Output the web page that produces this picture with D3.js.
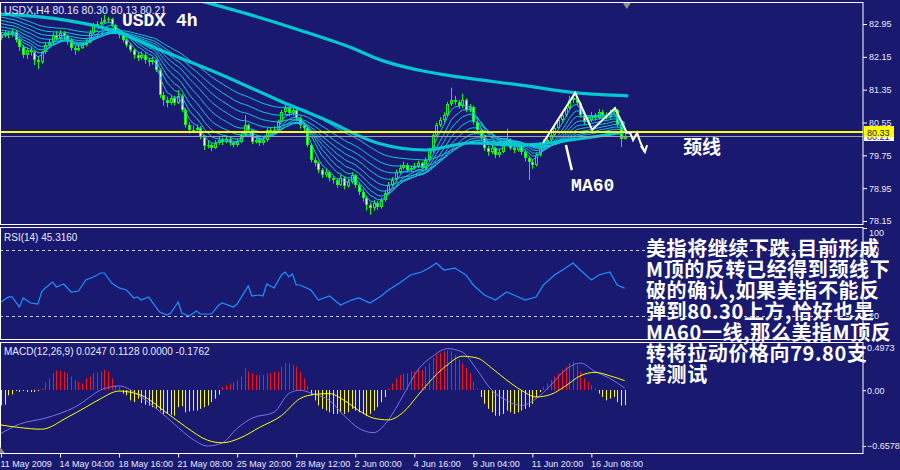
<!DOCTYPE html>
<html><head><meta charset="utf-8">
<script src="https://cdn.jsdelivr.net/npm/d3@7"></script>
<style>body{margin:0;background:#191970;} svg{display:block}</style>
</head><body><svg id="c" width="900" height="470"></svg>
<script>
// ---------- DATA ----------
const closes = [82.66,82.73,82.68,82.76,82.56,82.39,82.20,82.32,82.27,82.07,
82.03,82.27,82.44,82.51,82.68,82.61,82.73,82.66,82.56,82.37,
82.32,82.37,82.44,82.51,82.73,82.93,82.95,83.00,83.05,83.07,
82.93,82.76,82.68,82.56,82.44,82.32,82.20,82.12,82.20,82.07,
82.03,82.07,81.83,81.22,81.10,81.03,81.15,81.03,81.20,80.85,
80.49,80.37,80.37,80.42,80.20,79.98,80.00,79.93,80.05,80.12,
80.08,80.15,80.05,80.00,80.08,80.25,80.49,80.37,80.08,80.12,
80.05,80.12,80.37,80.30,80.37,80.56,80.81,80.90,80.78,80.85,
80.66,80.49,80.42,80.00,79.64,79.56,79.39,79.27,79.34,79.20,
79.15,79.03,79.20,79.00,79.10,79.27,79.03,78.86,78.71,78.54,
78.47,78.59,78.49,78.66,78.83,79.03,79.15,79.34,79.44,79.51,
79.39,79.44,79.49,79.56,79.44,79.64,79.88,80.25,80.49,80.61,
80.73,81.00,81.10,81.05,80.95,81.10,80.85,80.93,80.56,80.37,
80.17,79.93,79.83,79.93,79.76,79.83,80.05,80.12,79.93,79.88,
80.00,79.83,79.69,79.59,79.51,79.76,79.93,80.08,80.12,80.25,
80.42,80.61,80.73,80.90,81.10,81.15,81.03,80.73,80.56,80.61,
80.73,80.66,80.81,80.73,80.69,80.81,80.85,80.49,80.16,80.21];
const opens = [82.62,82.66,82.73,82.68,82.76,82.56,82.39,82.20,82.32,82.27,
82.07,82.03,82.27,82.44,82.51,82.68,82.61,82.73,82.66,82.56,
82.37,82.32,82.37,82.44,82.51,82.73,82.93,82.95,83.00,83.05,
83.07,82.93,82.76,82.68,82.56,82.44,82.32,82.20,82.12,82.20,
82.07,82.03,82.07,81.83,81.22,81.10,81.03,81.15,81.03,81.20,
80.85,80.49,80.37,80.37,80.42,80.20,79.98,80.00,79.93,80.05,
80.12,80.08,80.15,80.05,80.00,80.08,80.25,80.49,80.37,80.08,
80.12,80.05,80.12,80.37,80.30,80.37,80.56,80.81,80.90,80.78,
80.85,80.66,80.49,80.42,80.00,79.64,79.56,79.39,79.27,79.34,
79.20,79.15,79.03,79.20,79.00,79.10,79.27,79.03,78.86,78.71,
78.54,78.47,78.59,78.49,78.66,78.83,79.03,79.15,79.34,79.44,
79.51,79.39,79.44,79.49,79.56,79.44,79.64,79.88,80.25,80.49,
80.61,80.73,81.00,81.10,81.05,80.95,81.10,80.85,80.93,80.56,
80.37,80.17,79.93,79.83,79.93,79.76,79.83,80.05,80.12,79.93,
79.88,80.00,79.83,79.69,79.59,79.51,79.76,79.93,80.08,80.12,
80.25,80.42,80.61,80.73,80.90,81.10,81.15,81.03,80.73,80.56,
80.61,80.73,80.66,80.81,80.73,80.69,80.81,80.85,80.49,80.16];
const highs = [82.74,82.80,82.78,82.84,82.80,82.60,82.44,82.38,82.40,82.30,
82.15,82.30,82.50,82.58,82.74,82.78,82.80,82.78,82.70,82.60,
82.42,82.45,82.50,82.60,82.80,82.98,83.02,83.10,83.17,83.12,
83.10,82.96,82.82,82.72,82.60,82.48,82.36,82.26,82.28,82.24,
82.12,82.15,82.10,81.88,81.30,81.18,81.22,81.20,81.34,81.24,
80.90,80.56,80.48,80.50,80.46,80.25,80.10,80.05,80.12,80.20,
80.18,80.22,80.20,80.10,80.16,80.30,80.73,80.52,80.40,80.20,
80.18,80.20,80.42,80.44,80.46,80.62,80.86,81.05,80.95,80.92,
80.88,80.70,80.55,80.46,80.04,79.70,79.60,79.44,79.42,79.38,
79.24,79.20,79.28,79.24,79.18,79.34,79.30,79.08,78.92,78.76,
78.60,78.66,78.64,78.72,78.90,79.10,79.22,79.40,79.52,79.60,
79.56,79.50,79.56,79.62,79.60,79.70,79.94,80.30,80.55,80.68,
80.80,81.05,81.40,81.20,81.10,81.25,81.14,81.00,80.96,80.60,
80.42,80.20,79.98,80.02,79.96,79.92,80.10,80.40,80.16,80.00,
80.08,80.04,79.88,79.74,79.64,79.82,80.00,80.14,80.20,80.32,
80.50,80.68,80.82,80.98,81.20,81.27,81.18,81.06,80.78,80.70,
80.80,80.78,80.88,80.86,80.80,80.86,80.92,80.88,80.52,80.30];
const lows = [82.55,82.62,82.60,82.64,82.50,82.30,82.12,82.10,82.18,81.95,
81.85,81.98,82.22,82.38,82.46,82.55,82.56,82.58,82.45,82.30,
82.20,82.28,82.34,82.40,82.48,82.70,82.86,82.90,82.96,82.98,
82.88,82.70,82.60,82.50,82.38,82.26,82.10,82.05,82.08,81.98,
81.92,81.96,81.78,81.15,80.96,80.92,80.98,80.96,81.00,80.80,
80.42,80.28,80.30,80.32,80.14,79.88,79.92,79.85,79.90,80.00,
80.00,80.04,79.98,79.94,79.96,80.04,80.20,80.30,80.02,80.04,
79.98,80.00,80.08,80.24,80.26,80.32,80.52,80.76,80.70,80.72,
80.58,80.40,80.34,79.95,79.58,79.48,79.32,79.20,79.22,79.12,
79.06,78.96,79.00,78.92,78.96,79.06,78.96,78.78,78.62,78.40,
78.30,78.40,78.42,78.45,78.62,78.80,79.00,79.10,79.30,79.40,
79.34,79.35,79.40,79.44,79.38,79.40,79.60,79.82,80.20,80.44,
80.56,80.68,80.95,80.98,80.88,80.90,80.80,80.80,80.50,80.30,
80.10,79.86,79.74,79.78,79.68,79.70,79.80,80.00,79.88,79.80,
79.84,79.76,79.60,79.15,79.42,79.48,79.72,79.90,80.02,80.06,
80.20,80.38,80.56,80.68,80.86,81.02,80.95,80.66,80.50,80.52,
80.56,80.60,80.62,80.66,80.62,80.64,80.76,80.44,79.95,80.13];

const priceTicks = [82.95, 82.15, 81.35, 80.55, 79.75, 78.95, 78.15];
const timeTickBars = [0, 16, 32, 48, 64, 80, 96, 112, 128, 144, 160];
const timeLabels = ["11 May 2009","14 May 04:00","18 May 16:00","21 May 08:00","25 May 20:00","28 May 12:00","2 Jun 00:00","4 Jun 16:00","9 Jun 04:00","11 Jun 20:00","16 Jun 08:00"];

// thick moving averages (bar index, price)
const ma60Bars = [0, 13, 30, 43, 58, 75, 88, 102, 115, 127, 141, 154, 169];
const ma60Vals = [83.19, 83.10, 82.80, 82.32, 81.78, 81.10, 80.61, 80.05, 79.88, 80.05, 80.00, 80.12, 80.32];
const maLongBars = [40, 53, 67, 81, 95, 103, 114, 124, 141, 156, 170];
const maLongVals = [83.85, 83.54, 83.19, 82.80, 82.37, 82.07, 81.81, 81.66, 81.46, 81.27, 81.20];

// thin EMA ribbon: periods and their starting level at the left edge
const ribbonPeriods = [4, 7, 10, 14, 19, 25, 32, 40, 50];
const ribbonSeeds = [82.65, 82.68, 82.74, 82.80, 82.88, 82.96, 83.04, 83.12, 83.20];

const neckline = 80.33;
const bidPrice = 80.21;

// RSI(14)
const rsiBars = [0,2,3,5,6,8,10,11,12,14,15,17,19,21,23,25,27,28,30,32,34,36,37,38,40,41,43,45,46,48,49,51,53,54,57,59,60,63,64,67,68,70,71,72,74,76,77,78,79,80,81,
84,86,89,92,95,97,100,103,105,108,111,114,116,118,120,123,126,128,131,134,137,139,142,145,147,150,153,155,157,160,162,165,167,169];
const rsiVals = [32.7,37.3,37.3,28.2,36.4,31.8,30.9,41.8,45.5,50.9,46.4,49.1,41.8,42.7,52.7,55.5,59.1,59.1,50.0,45.5,43.6,36.4,37.3,34.5,37.3,32.7,23.6,20.9,22.7,32.7,22.7,20.0,24.5,21.8,21.8,30.0,31.8,28.2,30.9,47.3,38.2,39.1,38.2,49.1,45.5,57.3,60.0,55.5,58.2,48.2,48.2,
43.6,34.5,38.2,30.0,34.5,36.4,31.8,38.2,43.6,50.0,57.3,60.0,63.6,68.2,61.8,63.6,57.3,48.2,39.1,34.5,41.8,39.1,34.5,37.3,48.2,57.3,63.6,68.2,61.8,52.7,57.3,60.0,48.2,45.3];
const rsiLevels = [80, 20];
const rsiTicks = [100, 80, 20];

// MACD(12,26,9) histogram per bar
const macdHist = [-0.18,-0.17,-0.06,-0.05,-0.01,-0.02,-0.01,-0.02,-0.02,-0.02,
-0.01,0.02,0.09,0.14,0.20,0.23,0.23,0.22,0.20,0.16,
0.12,0.10,0.08,0.14,0.16,0.20,0.21,0.22,0.24,0.22,
0.14,0.06,0.04,-0.04,-0.06,-0.12,-0.14,-0.10,-0.15,-0.17,
-0.18,-0.20,-0.22,-0.24,-0.28,-0.28,-0.29,-0.30,-0.20,-0.19,
-0.26,-0.25,-0.24,-0.24,-0.22,-0.20,-0.18,-0.14,-0.10,-0.05,
0.04,0.06,0.08,0.10,0.12,0.16,0.26,0.22,0.20,0.18,
0.18,0.18,0.20,0.20,0.22,0.22,0.28,0.32,0.32,0.30,
0.28,0.22,0.14,0.05,-0.06,-0.12,-0.18,-0.22,-0.24,-0.26,
-0.28,-0.28,-0.26,-0.28,-0.26,-0.22,-0.24,-0.26,-0.28,-0.30,
-0.28,-0.24,-0.20,-0.14,-0.08,0.02,0.08,0.14,0.18,0.20,
0.20,0.22,0.22,0.24,0.24,0.28,0.32,0.38,0.42,0.44,
0.46,0.47,0.46,0.42,0.36,0.32,0.26,0.20,0.10,0.02,
-0.08,-0.16,-0.22,-0.26,-0.30,-0.30,-0.28,-0.24,-0.26,-0.28,
-0.26,-0.24,-0.22,-0.20,-0.16,-0.08,-0.02,0.04,0.08,0.12,
0.16,0.20,0.24,0.28,0.32,0.34,0.30,0.22,0.14,0.10,
0.06,0.02,-0.04,-0.08,-0.12,-0.10,-0.08,-0.14,-0.18,-0.1762];
const macdBars = [0,5,12,20,28,32,38,43,47,52,56,60,64,68,74,78,81,85,89,93,97,101,105,109,113,117,121,125,129,133,137,141,145,149,153,157,161,165,169];
const macdMain = [-0.51,-0.40,-0.33,-0.20,0.02,0.05,-0.08,-0.25,-0.40,-0.58,-0.6578,-0.62,-0.45,-0.33,-0.26,-0.04,0.00,-0.05,-0.12,-0.30,-0.45,-0.50,-0.35,-0.06,0.24,0.40,0.49,0.45,0.24,0.00,-0.12,-0.18,-0.10,0.06,0.24,0.32,0.22,0.14,0.0247];
const sigBars = [0,5,11,18,23,27,32,38,45,50,56,60,65,70,76,81,85,89,93,97,101,105,109,113,117,121,125,129,133,137,141,145,149,153,157,161,165,169];
const macdSignal = [-0.41,-0.44,-0.46,-0.32,-0.20,-0.10,-0.01,-0.06,-0.27,-0.43,-0.59,-0.62,-0.56,-0.44,-0.30,-0.10,-0.05,-0.04,-0.12,-0.24,-0.33,-0.35,-0.26,-0.06,0.14,0.30,0.40,0.38,0.26,0.12,0.00,-0.08,-0.05,0.05,0.17,0.21,0.17,0.1128];
const macdTicks = [0.4973, 0.00, -0.6578];

// annotation (bar index, price)
const mPattern = [[146.9,80.05],[155.6,81.27],[160.2,80.37],[166.4,80.90],[169.6,80.30],[170.5,80.30],[171.3,80.12],[172.4,80.30],[173.2,80.08],[174.5,79.83]];
const arrowHead = [[173.4,79.98],[174.5,79.83],[175.1,80.00]];
const ma60Pointer = [[154.7,79.39],[153.1,80.00]];
const noteLines = ["美指将继续下跌,目前形成","M顶的反转已经得到颈线下","破的确认,如果美指不能反","弹到80.30上方,恰好也是","MA60一线,那么美指M顶反","转将拉动价格向79.80支","撑测试"];

// ---------- LAYOUT ----------
const svg = d3.select("#c");
const W = 900, H = 470, PR = 863;
const BG = "#191970";
const main = {top: 2, bottom: 224}, rsiP = {top: 227, bottom: 339}, macdP = {top: 342, bottom: 453};
const FONT = "'Liberation Sans', Arial, sans-serif";
const TXT = "#e8e8ff";

svg.append("rect").attr("width", W).attr("height", H).attr("fill", BG);

const x = d3.scaleLinear().domain([0, 169]).range([1, 624.6]);
const yP = d3.scaleLinear().domain([78.15, 82.95]).range([221, 24]);
const yR = d3.scaleLinear().domain([0, 100]).range([338, 228]);
const yM = d3.scaleLinear().domain([-0.6578, 0.4973]).range([446, 348]);

const defs = svg.append("defs");
[["clipMain", main], ["clipRsi", rsiP], ["clipMacd", macdP]].forEach(([id, p]) => {
  defs.append("clipPath").attr("id", id).append("rect").attr("x", 0).attr("y", p.top).attr("width", PR).attr("height", p.bottom - p.top);
});

// ---------- MAIN PANEL ----------
const gMain = svg.append("g").attr("clip-path", "url(#clipMain)");
const LIME = "#00ff00";
closes.forEach((c, i) => {
  const o = opens[i], cx = Math.round(x(i));
  gMain.append("line").attr("x1", cx + 0.5).attr("x2", cx + 0.5)
    .attr("y1", yP(highs[i])).attr("y2", yP(lows[i])).attr("stroke", LIME).attr("stroke-width", 1);
  const yt = Math.round(yP(Math.max(o, c))), yb = Math.round(yP(Math.min(o, c)));
  const h = Math.max(1, yb - yt);
  gMain.append("rect").attr("x", cx - 1).attr("y", yt).attr("width", 3).attr("height", h).attr("fill", LIME);
  if (h > 2) gMain.append("rect").attr("x", cx).attr("y", yt + 1).attr("width", 1).attr("height", h - 2)
    .attr("fill", c < o ? "#ffffff" : BG);
});

// ribbon EMAs
const CYAN = "#00c8d2";
ribbonPeriods.forEach((n, k) => {
  const a = 2 / (n + 1); let e = ribbonSeeds[k];
  const pts = closes.map((c, i) => { e = i === 0 ? e : e + a * (c - e); return [i, e]; });
  gMain.append("path").datum(pts)
    .attr("d", d3.line().x(d => x(d[0])).y(d => yP(d[1])))
    .attr("fill", "none").attr("stroke", "#14c4dc").attr("stroke-width", 1);
});
const smooth = d3.line().x(d => x(d[0])).y(d => yP(d[1])).curve(d3.curveMonotoneX);
gMain.append("path").datum(ma60Bars.map((b, i) => [b, ma60Vals[i]])).attr("d", smooth)
  .attr("fill", "none").attr("stroke", CYAN).attr("stroke-width", 3.2);
gMain.append("path").datum(maLongBars.map((b, i) => [b, maLongVals[i]])).attr("d", smooth)
  .attr("fill", "none").attr("stroke", CYAN).attr("stroke-width", 3.2);

// horizontal lines
const yBid = Math.round(yP(bidPrice)) + 0.5, yNeck = Math.round(yP(neckline));
gMain.append("line").attr("x1", 0).attr("x2", PR).attr("y1", yBid).attr("y2", yBid).attr("stroke", "#a0a0b0").attr("stroke-width", 1);
gMain.append("line").attr("x1", 0).attr("x2", PR).attr("y1", yNeck).attr("y2", yNeck).attr("stroke", "#ffff00").attr("stroke-width", 2);

// ---------- RSI ----------
const gR = svg.append("g").attr("clip-path", "url(#clipRsi)");
rsiLevels.forEach(l => gR.append("line").attr("x1", 0).attr("x2", PR).attr("y1", Math.round(yR(l)) + 0.5).attr("y2", Math.round(yR(l)) + 0.5)
  .attr("stroke", "#c8c8d8").attr("stroke-dasharray", "3,3"));
gR.append("path").datum(rsiBars.map((b, i) => [b, rsiVals[i]]))
  .attr("d", d3.line().x(d => x(d[0])).y(d => yR(d[1])))
  .attr("fill", "none").attr("stroke", "#1e90ff").attr("stroke-width", 1.2);

// ---------- MACD ----------
const gM = svg.append("g").attr("clip-path", "url(#clipMacd)");
const z = Math.round(yM(0));
macdHist.forEach((v, i) => {
  const yv = yM(v);
  gM.append("rect").attr("x", Math.round(x(i))).attr("width", 1)
    .attr("y", Math.min(yv, z)).attr("height", Math.max(1, Math.abs(yv - z)))
    .attr("fill", v >= 0 ? "#ff1010" : "#ffff00");
});
const ml = d3.line().x(d => x(d[0])).y(d => yM(d[1])).curve(d3.curveMonotoneX);
gM.append("path").datum(macdBars.map((b, i) => [b, macdMain[i]])).attr("d", ml).attr("fill", "none").attr("stroke", "#7b70e8").attr("stroke-width", 1);
gM.append("path").datum(sigBars.map((b, i) => [b, macdSignal[i]])).attr("d", ml).attr("fill", "none").attr("stroke", "#ffff00").attr("stroke-width", 1);

// ---------- FRAMES ----------
[main, rsiP, macdP].forEach(p => svg.append("rect").attr("x", 0.5).attr("y", p.top + 0.5).attr("width", PR - 0.5).attr("height", p.bottom - p.top)
  .attr("fill", "none").attr("stroke", "#ffffff").attr("stroke-width", 1));

// ---------- AXES ----------
function styleAxis(g) {
  g.select(".domain").remove();
  g.selectAll(".tick line").attr("stroke", "#fff");
  g.selectAll(".tick text").attr("fill", TXT).attr("font-family", FONT).attr("font-size", 9);
}
svg.append("g").attr("transform", `translate(${PR},0)`)
  .call(d3.axisRight(yP).tickValues(priceTicks).tickFormat(d3.format(".2f")).tickSize(4).tickPadding(2)).call(styleAxis);
svg.append("g").attr("transform", `translate(${PR},0)`)
  .call(d3.axisRight(yR).tickValues(rsiTicks).tickSize(4).tickPadding(2)).call(styleAxis)
  .selectAll(".tick").filter(d => d === 100).select("text").attr("transform", "translate(0,5)");
svg.append("g").attr("transform", `translate(${PR},0)`)
  .call(d3.axisRight(yM).tickValues(macdTicks).tickFormat(d => d === 0 ? "0.00" : d3.format(".4f")(d)).tickSize(3).tickPadding(1)).call(styleAxis);
const xa = svg.append("g").attr("transform", `translate(0,${macdP.bottom + 0.5})`)
  .call(d3.axisBottom(x).tickValues(timeTickBars).tickFormat((d, i) => timeLabels[i]).tickSize(4).tickPadding(3)).call(styleAxis);
xa.selectAll(".tick text").attr("text-anchor", "start").attr("dx", -1);
svg.append("line").attr("x1", 0).attr("x2", PR).attr("y1", macdP.bottom + 0.5).attr("y2", macdP.bottom + 0.5).attr("stroke", "#fff");

// price tags
const tag = (p, fill, txt, col) => {
  const yy = Math.round(yP(p));
  svg.append("rect").attr("x", PR + 1).attr("y", yy - 6).attr("width", 30).attr("height", 11).attr("fill", fill);
  svg.append("text").attr("x", PR + 4).attr("y", yy + 3.5).attr("fill", col).attr("font-family", FONT).attr("font-size", 9).text(txt);
};
tag(bidPrice, "#ffffff", d3.format(".2f")(bidPrice), "#191970");
tag(neckline, "#ffff00", d3.format(".2f")(neckline), "#202020");

// ---------- LABELS & ANNOTATIONS ----------
svg.append("text").attr("x", 4).attr("y", 14).attr("fill", TXT).attr("font-family", FONT).attr("font-size", 10.5)
  .text("USDX,H4  80.16 80.30 80.13 80.21");
svg.append("text").attr("x", 122).attr("y", 26).attr("fill", "#fff")
  .attr("font-family", "'Liberation Mono', 'DejaVu Sans Mono', monospace").attr("font-weight", "bold").attr("font-size", 18).text("USDX 4h");
svg.append("path").attr("d", `M${x(169.6) - 4},${main.top + 1}l8,0l-4,6z`).attr("fill", "#909090");
svg.append("path").attr("d", `M0,${macdP.bottom - 6}l5,6l-5,0z`).attr("fill", "#909090");
svg.append("text").attr("x", 4).attr("y", 241).attr("fill", TXT).attr("font-family", FONT).attr("font-size", 10).text("RSI(14) 45.3160");
svg.append("text").attr("x", 4).attr("y", 355).attr("fill", TXT).attr("font-family", FONT).attr("font-size", 10).text("MACD(12,26,9) 0.0247 0.1128 0.0000 -0.1762");

const pl = d3.line().x(d => x(d[0])).y(d => yP(d[1]));
svg.append("path").datum(mPattern).attr("d", pl).attr("fill", "none").attr("stroke", "#fff").attr("stroke-width", 2);
svg.append("path").datum(arrowHead).attr("d", pl).attr("fill", "none").attr("stroke", "#fff").attr("stroke-width", 2);
svg.append("path").datum(ma60Pointer).attr("d", pl).attr("fill", "none").attr("stroke", "#fff").attr("stroke-width", 2.5);
svg.append("text").attr("x", x(154.5)).attr("y", yP(78.87)).attr("fill", "#fff")
  .attr("font-family", "'Liberation Mono', 'DejaVu Sans Mono', monospace").attr("font-weight", "bold").attr("font-size", 18).text("MA60");
svg.append("text").attr("x", 683).attr("y", yP(80.0)).attr("dominant-baseline", "central").attr("fill", "#fff")
  .attr("font-family", "'Noto Sans CJK SC'").attr("font-weight", "bold").attr("font-size", 19).text("颈线");

const note = svg.append("text").attr("fill", "#fff").attr("font-family", "'Noto Sans CJK SC'").attr("font-weight", "bold")
  .attr("font-size", 20).attr("letter-spacing", 0.6);
noteLines.forEach((t, k) => note.append("tspan").attr("x", 646).attr("y", 247 + k * 21.1).attr("dominant-baseline", "central").text(t));
</script></body></html>
